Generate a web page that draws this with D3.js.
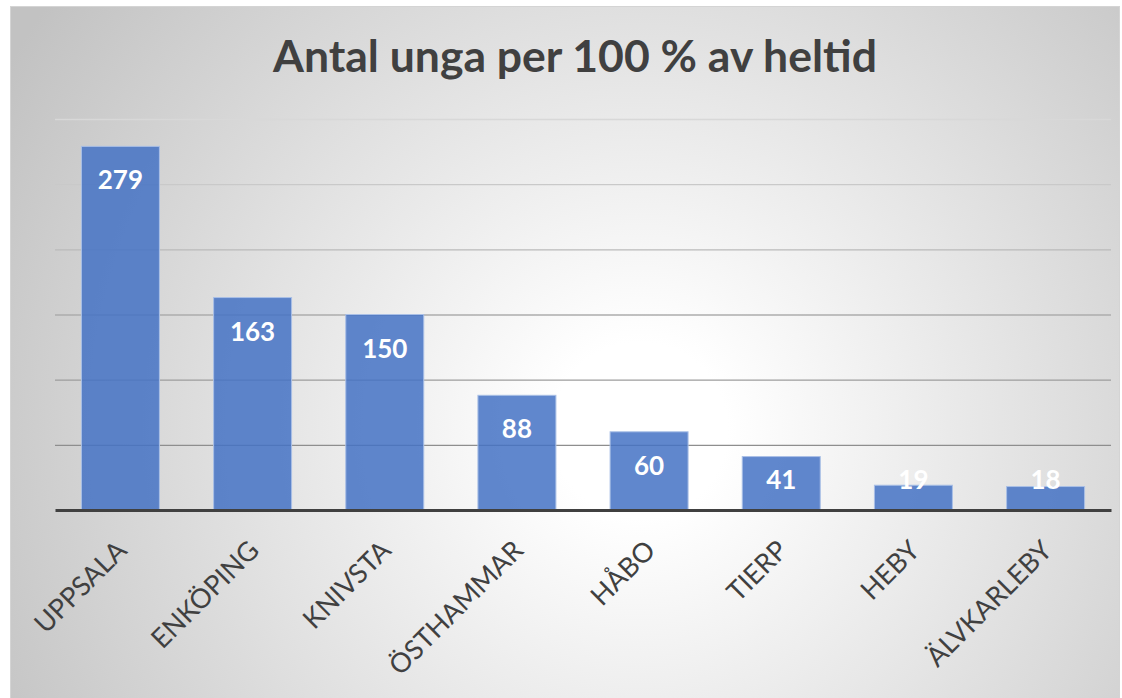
<!DOCTYPE html>
<html>
<head>
<meta charset="utf-8">
<script src="https://cdn.jsdelivr.net/npm/d3@7"></script>
<style>
    body { margin: 0; background: #fff; }
    text { font-family: Lato, "Open Sans", sans-serif; }
</style>
</head>
<body>
<script>
// data
const kommuner = ['UPPSALA', 'ENKÖPING', 'KNIVSTA', 'ÖSTHAMMAR', 'HÅBO', 'TIERP', 'HEBY', 'ÄLVKARLEBY'];
const antal = [279, 163, 150, 88, 60, 41, 19, 18];
const gridTicks = [50, 100, 150, 200, 250, 300];
const title = 'Antal unga per 100 % av heltid';

const data = kommuner.map((k, i) => ({ name: k, value: antal[i] }));

const W = 1122, H = 698;
const margin = { top: 119, right: 11, bottom: 188, left: 55 };
const width = W - margin.left - margin.right;
const height = H - margin.top - margin.bottom;

const svg = d3.select('body').append('svg')
    .attr('width', W)
    .attr('height', H);

// background with radial gradient
const defs = svg.append('defs');
const grad = defs.append('radialGradient')
    .attr('id', 'bg')
    .attr('gradientUnits', 'userSpaceOnUse')
    .attr('cx', 640).attr('cy', 430).attr('r', 730);
grad.append('stop').attr('offset', '0').attr('stop-color', '#ffffff');
grad.append('stop').attr('offset', '0.12').attr('stop-color', '#ffffff');
grad.append('stop').attr('offset', '1').attr('stop-color', '#c2c2c2');

svg.append('rect')
    .attr('x', 10.5).attr('y', 6.5)
    .attr('width', 1109).attr('height', 700)
    .attr('fill', 'url(#bg)')
    .attr('stroke', '#d4d4d4');

svg.append('text')
    .attr('x', 575).attr('y', 72)
    .attr('text-anchor', 'middle')
    .attr('font-size', 44.5)
    .attr('font-weight', 'bold')
    .attr('fill', '#404040')
    .text(title);

const g = svg.append('g')
    .attr('transform', `translate(${margin.left}, ${margin.top})`);

const xScale = d3.scaleBand()
    .domain(kommuner)
    .range([0, width])
    .paddingInner(0.41)
    .paddingOuter(0.2);

const yScale = d3.scaleLinear()
    .domain([0, 300])
    .range([height, 0]);

// gridlines
const gridColor = d3.scaleLinear().domain([50, 300]).range(['#8e8e8e', '#d8d8d8']);
const yAxis = d3.axisLeft(yScale)
    .tickValues(gridTicks)
    .tickSize(-width)
    .tickFormat('');
const gGrid = g.append('g').attr('class', 'grid').call(yAxis);
gGrid.select('.domain').remove();
gGrid.selectAll('.tick line')
    .attr('stroke', d => gridColor(d))
    .attr('stroke-width', 1.3);

// bars
g.selectAll('rect.bar')
    .data(data)
    .join('rect')
    .attr('class', 'bar')
    .attr('x', d => xScale(d.name))
    .attr('y', d => yScale(d.value))
    .attr('width', xScale.bandwidth())
    .attr('height', d => yScale(0) - yScale(d.value))
    .attr('fill', '#4472c4')
    .attr('fill-opacity', 0.85)
    .attr('stroke', '#a9bfe6')
    .attr('stroke-width', 1);

// value labels, inside end
g.selectAll('text.val')
    .data(data)
    .join('text')
    .attr('class', 'val')
    .attr('x', d => xScale(d.name) + xScale.bandwidth() / 2)
    .attr('y', d => Math.min(yScale(d.value) + 43, yScale(0) - 21))
    .attr('text-anchor', 'middle')
    .attr('font-size', 26)
    .attr('font-weight', 'bold')
    .attr('fill', '#ffffff')
    .text(d => d.value);

// x axis
const xAxis = d3.axisBottom(xScale).tickSize(0);
const gX = g.append('g')
    .attr('transform', `translate(0, ${height})`)
    .call(xAxis);
gX.select('.domain')
    .attr('stroke', '#404040')
    .attr('stroke-width', 3);
gX.selectAll('.tick text')
    .attr('font-size', 27)
    .attr('fill', '#404040')
    .attr('text-anchor', 'end')
    .attr('dy', 0)
    .attr('y', 0)
    .attr('transform', 'translate(8, 42) rotate(-45)');
</script>
</body>
</html>
